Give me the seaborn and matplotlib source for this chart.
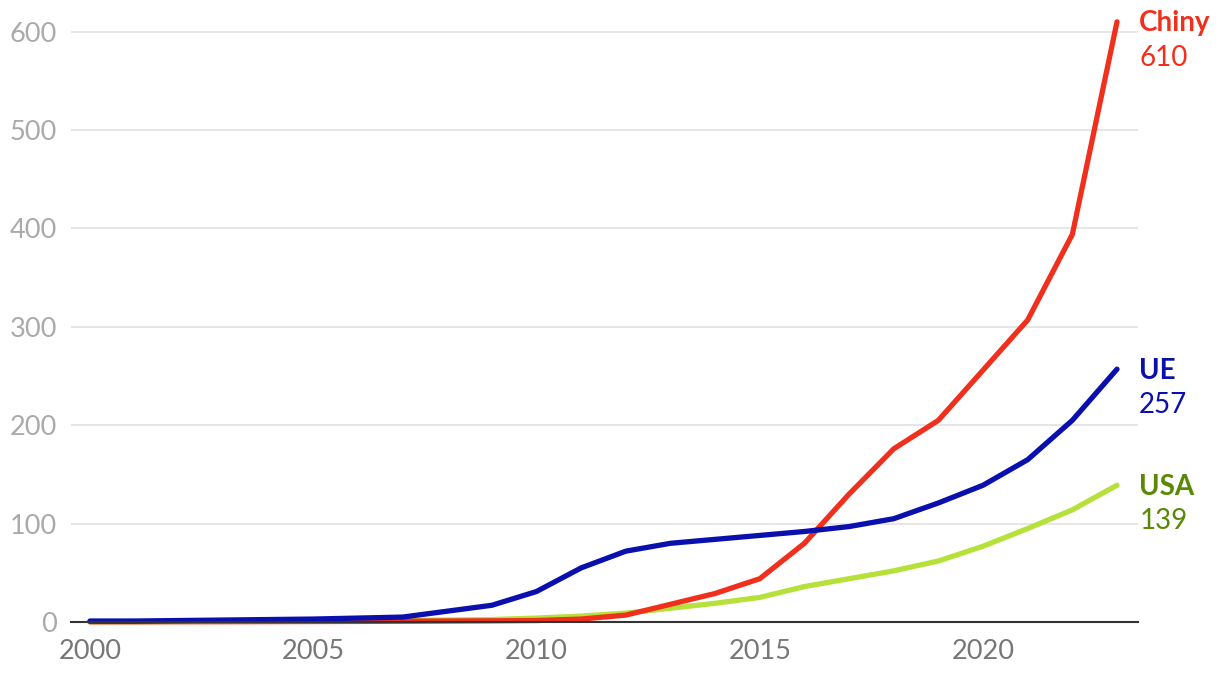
import pandas as pd
import numpy as np
import matplotlib
matplotlib.use('Agg')
import matplotlib.pyplot as plt
import seaborn as sns

# Values
years = list(range(2000, 2024))
china = [0.2, 0.2, 0.3, 0.3, 0.4, 0.5, 0.6, 0.8, 1, 1.2, 1.5, 3, 7, 18, 29, 44, 80, 130, 176, 205, 256, 307, 394, 610]
eu = [1, 1, 1.5, 2, 2.5, 3, 4, 5, 11, 17, 31, 55, 72, 80, 84, 88, 92, 97, 105, 121, 139, 165, 205, 257]
usa = [0.3, 0.4, 0.5, 0.6, 0.8, 1, 1.2, 1.5, 2, 2.5, 4, 6, 9, 14, 19, 25, 36, 44, 52, 62, 77, 95, 114, 139]

series_names = ['Chiny', 'UE', 'USA']
line_colors = {'Chiny': '#f0301c', 'UE': '#0a10ad', 'USA': '#b6e03a'}
label_colors = {'Chiny': '#f0301c', 'UE': '#0a10ad', 'USA': '#5a8a05'}
y_ticks = [0, 100, 200, 300, 400, 500, 600]
x_ticks = [2000, 2005, 2010, 2015, 2020]

df = pd.DataFrame({
    'year': years * 3,
    'value': china + eu + usa,
    'series': ['Chiny'] * len(years) + ['UE'] * len(years) + ['USA'] * len(years),
})

sns.set_style('white')
plt.rcParams['font.family'] = ['Lato', 'DejaVu Sans']

fig = plt.figure(figsize=(12.2, 6.78), dpi=100)
ax = fig.add_axes([71 / 1220, 56 / 678, (1138 - 71) / 1220, 610 / 678])

# draw order: USA, China, EU on top
for name in ['USA', 'Chiny', 'UE']:
    sns.lineplot(data=df[df['series'] == name], x='year', y='value', color=line_colors[name],
                 linewidth=3.8, ax=ax, legend=False, clip_on=False, zorder=3,
                 solid_capstyle='round')

ax.set_xlim(1999.575, 2023.47)
ax.set_ylim(0, 620)
ax.set_yticks(y_ticks)
ax.set_xticks(x_ticks)
ax.set_xlabel('')
ax.set_ylabel('')

ax.grid(axis='y', color='#e2e2e2', linewidth=1.2)
ax.grid(axis='x', visible=False)
for side in ['left', 'right', 'top']:
    ax.spines[side].set_visible(False)
ax.spines['bottom'].set_color('#333333')
ax.spines['bottom'].set_linewidth(1.5)
ax.spines['bottom'].set_zorder(4)

ax.tick_params(axis='y', length=0, pad=10, labelsize=19.5, labelcolor='#aaaaaa')
ax.tick_params(axis='x', length=0, pad=12, labelsize=19.5, labelcolor='#777777')

# end labels
last = {'Chiny': china[-1], 'UE': eu[-1], 'USA': usa[-1]}
for name in series_names:
    v = last[name]
    ax.annotate(name, xy=(years[-1], v), xytext=(16, -1), textcoords='offset points',
                color=label_colors[name], fontsize=20, fontweight='bold',
                va='center', ha='left', annotation_clip=False)
    ax.annotate(f'{v:.0f}', xy=(years[-1], v), xytext=(16, -26), textcoords='offset points',
                color=label_colors[name], fontsize=20,
                va='center', ha='left', annotation_clip=False)

fig.savefig('out.png', dpi=100)
